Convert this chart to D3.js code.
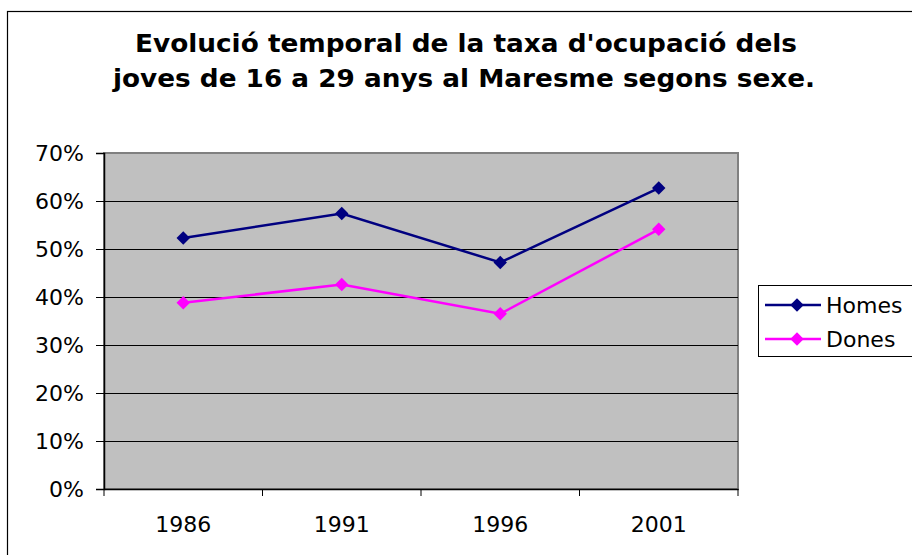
<!DOCTYPE html>
<html lang="ca">
<head>
    <meta charset="UTF-8">
    <title>Taxa d'ocupació joves Maresme</title>
    <script src="https://cdn.jsdelivr.net/npm/d3@7/dist/d3.min.js"></script>
    <style>
        body { margin: 0; background: #fff; }
        text { font-family: "DejaVu Sans", Verdana, sans-serif; }
    </style>
</head>
<body>
<script>
    const width = 912, height = 555;

    // dades
    const years = ['1986', '1991', '1996', '2001'];
    const homes = [52.3, 57.4, 47.2, 62.7];
    const dones = [38.8, 42.6, 36.5, 54.1];
    const yTicks = [0, 10, 20, 30, 40, 50, 60, 70];
    const seriesNames = ['Homes', 'Dones'];
    const seriesColors = ['#000080', '#ff00ff'];

    const margin = {left: 104, right: 174, top: 153, bottom: 66};

    const svg = d3.select('body').append('svg')
        .attr('width', width)
        .attr('height', height);

    // marc del gràfic
    svg.append('rect')
        .attr('x', 7.5).attr('y', 11.5)
        .attr('width', 920).attr('height', 560)
        .attr('fill', '#fff')
        .attr('stroke', '#000')
        .attr('stroke-width', 1.2);

    // títol
    const title = svg.append('text')
        .attr('text-anchor', 'middle')
        .attr('font-weight', 'bold')
        .attr('font-size', 24);
    title.append('tspan').attr('x', 466).attr('y', 52)
        .attr('textLength', 662).attr('lengthAdjust', 'spacingAndGlyphs')
        .text("Evolució temporal de la taxa d'ocupació dels");
    title.append('tspan').attr('x', 464).attr('y', 87)
        .attr('textLength', 702).attr('lengthAdjust', 'spacingAndGlyphs')
        .text('joves de 16 a 29 anys al Maresme segons sexe.');

    const x = d3.scaleBand()
        .domain(years)
        .range([margin.left, width - margin.right]);
    const y = d3.scaleLinear()
        .domain([0, 70])
        .range([height - margin.bottom, margin.top]);

    // àrea de dibuix
    svg.append('rect')
        .attr('x', margin.left)
        .attr('y', margin.top)
        .attr('width', x.range()[1] - margin.left)
        .attr('height', y(0) - margin.top)
        .attr('fill', '#c0c0c0')
        .attr('stroke', '#808080')
        .attr('stroke-width', 2);

    // línies de quadrícula
    svg.append('g')
        .selectAll('line')
        .data(yTicks.slice(1, -1))
        .enter()
        .append('line')
        .attr('x1', margin.left)
        .attr('x2', x.range()[1])
        .attr('y1', d => y(d) + 0.5)
        .attr('y2', d => y(d) + 0.5)
        .attr('stroke', '#000')
        .attr('stroke-width', 1);

    // eix y
    const yAxis = svg.append('g')
        .attr('transform', 'translate(' + margin.left + ',0)')
        .call(d3.axisLeft(y).tickValues(yTicks).tickFormat(d => d + '%').tickSize(8).tickPadding(12));
    yAxis.select('.domain').attr('stroke', '#000').attr('stroke-width', 1.5);
    yAxis.selectAll('text').attr('font-size', 22).attr('fill', '#000')
        .attr('font-family', '"DejaVu Sans", Verdana, sans-serif');

    // eix x
    const xAxis = svg.append('g')
        .attr('transform', 'translate(0,' + y(0) + ')')
        .call(d3.axisBottom(x).tickSize(0).tickPadding(27));
    xAxis.select('.domain').attr('stroke', '#000').attr('stroke-width', 1.5);
    xAxis.selectAll('text').attr('font-size', 22).attr('fill', '#000')
        .attr('font-family', '"DejaVu Sans", Verdana, sans-serif');
    xAxis.selectAll('line.sep')
        .data(d3.range(years.length + 1))
        .enter()
        .append('line')
        .attr('class', 'sep')
        .attr('x1', i => margin.left + i * x.bandwidth())
        .attr('x2', i => margin.left + i * x.bandwidth())
        .attr('y1', 0).attr('y2', 7)
        .attr('stroke', '#000');

    // sèries
    const series = [homes, dones];
    const line = d3.line()
        .x((d, i) => x(years[i]) + x.bandwidth() / 2)
        .y(d => y(d));
    const diamond = d3.symbol().type(d3.symbolDiamond2).size(115);

    series.forEach(function (vals, s) {
        svg.append('path')
            .datum(vals)
            .attr('d', line)
            .attr('fill', 'none')
            .attr('stroke', seriesColors[s])
            .attr('stroke-width', 2.5);
        svg.append('g')
            .selectAll('path')
            .data(vals)
            .enter()
            .append('path')
            .attr('d', diamond)
            .attr('transform', (d, i) => 'translate(' + (x(years[i]) + x.bandwidth() / 2) + ',' + y(d) + ')')
            .attr('fill', seriesColors[s]);
    });

    // llegenda
    const legend = svg.append('g');
    legend.append('rect')
        .attr('x', 758.5).attr('y', 285.5)
        .attr('width', 170).attr('height', 71)
        .attr('fill', '#fff')
        .attr('stroke', '#000');
    seriesNames.forEach(function (name, s) {
        const ly = 305 + s * 34;
        legend.append('line')
            .attr('x1', 765).attr('x2', 821)
            .attr('y1', ly).attr('y2', ly)
            .attr('stroke', seriesColors[s])
            .attr('stroke-width', 2.5);
        legend.append('path')
            .attr('d', diamond)
            .attr('transform', 'translate(797,' + ly + ')')
            .attr('fill', seriesColors[s]);
        legend.append('text')
            .attr('x', 826).attr('y', ly + 8)
            .attr('font-size', 22)
            .text(name);
    });
</script>
</body>
</html>
